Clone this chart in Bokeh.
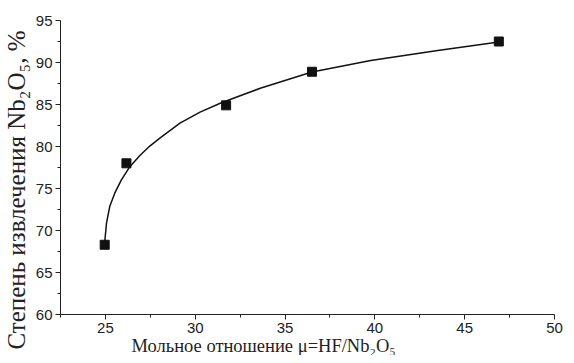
from bokeh.plotting import figure
from bokeh.models import Range1d, FixedTicker, Title
from bokeh.embed import file_html
from bokeh.resources import INLINE

# measured data points
ratio = [24.96, 26.17, 31.72, 36.5, 46.9]
extraction = [68.3, 78.0, 84.9, 88.9, 92.5]

# fitted curve
curve_x = [24.96, 25.06, 25.24, 25.52, 25.89, 26.36, 26.92, 27.47, 28.03, 29.15, 30.27,
           31.39, 32.5, 33.62, 36.5, 39.77, 43.5, 46.9]
curve_y = [68.55, 70.88, 72.85, 74.44, 76.02, 77.6, 78.93, 80.05, 81.0, 82.78, 84.09,
           85.15, 86.04, 86.93, 88.87, 90.25, 91.44, 92.43]

x_ticks = [25, 30, 35, 40, 45, 50]
y_ticks = [60, 65, 70, 75, 80, 85, 90, 95]

x_title = "Мольное отношение μ=HF/Nb₂O₅"
y_title = "Степень извлечения Nb₂O₅, %"

p = figure(width=566, height=355, output_backend="svg", toolbar_location=None,
           x_range=Range1d(22.5, 50), y_range=Range1d(60, 95),
           min_border_left=56, min_border_top=20, min_border_right=12, min_border_bottom=40)
p.outline_line_color = None
p.grid.visible = False
p.background_fill_color = "white"

p.line(curve_x, curve_y, line_color="#111111", line_width=1.5)
p.scatter(ratio, extraction, marker="square", size=9, fill_color="#111111", line_color="#111111")

for ax, ticks in ((p.xaxis, x_ticks), (p.yaxis, y_ticks)):
    ax.ticker = FixedTicker(ticks=ticks, minor_ticks=[t + 2.5 for t in [20] + ticks])
    ax.major_tick_out = 5
    ax.major_tick_in = 0
    ax.minor_tick_out = 3
    ax.minor_tick_in = 0
    ax.axis_line_color = "#222222"
    ax.major_tick_line_color = "#222222"
    ax.minor_tick_line_color = "#222222"
    ax.major_label_text_font = "Liberation Sans"
    ax.major_label_text_font_size = "15px"
    ax.major_label_text_color = "#222222"

p.xaxis.major_label_standoff = 3
p.yaxis.major_label_standoff = 3

xt = Title(text=x_title, align="left", offset=71, standoff=-2, vertical_align="middle",
           text_font="Liberation Serif", text_font_size="18.5px",
           text_font_style="normal", text_color="#222222")
yt = Title(text=y_title, align="left", offset=-35, standoff=3, vertical_align="middle",
           text_font="Liberation Serif", text_font_size="25px",
           text_font_style="normal", text_color="#222222")
p.add_layout(xt, "below")
p.add_layout(yt, "left")

open("out.html", "w").write(file_html(p, INLINE))
